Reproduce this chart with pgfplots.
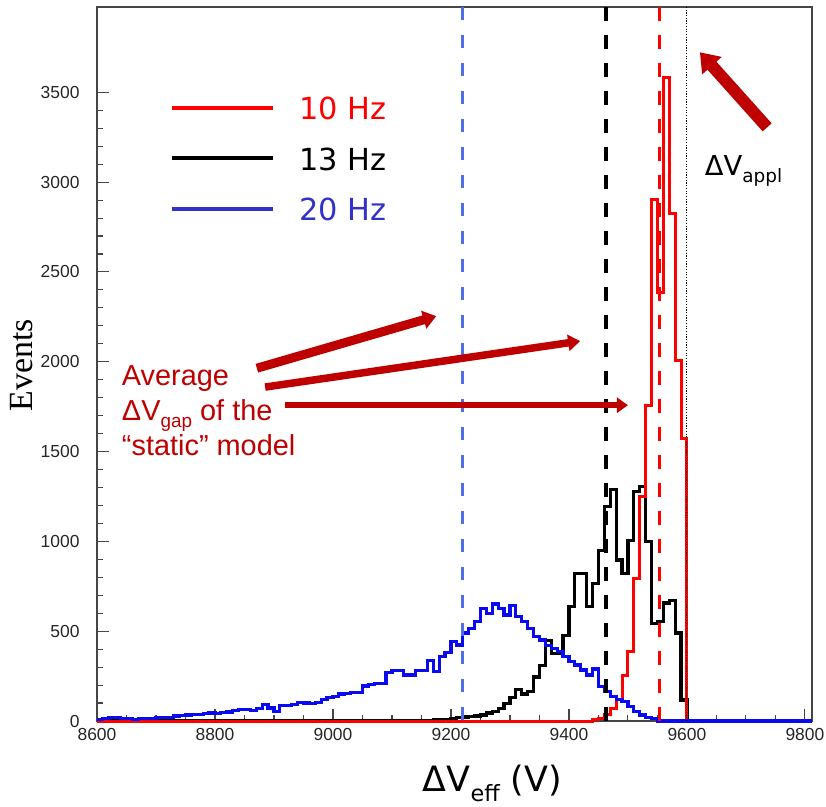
\documentclass[border=0pt]{standalone}
\usepackage{fontspec}
\setmainfont{Liberation Sans}
\newfontfamily\dejavu{DejaVu Sans}
\newfontfamily\tnr{Liberation Serif}
\usepackage{pgfplots}
\pgfplotsset{compat=1.18}
\usetikzlibrary{arrows.meta}
\definecolor{annred}{RGB}{190,0,0}
\definecolor{histblue}{RGB}{10,10,240}
\definecolor{dashblue}{RGB}{80,110,230}
\definecolor{legblue}{RGB}{50,50,200}
\definecolor{framegray}{RGB}{70,70,70}
\newcommand\tl[1]{{\fontsize{17.5}{20}\selectfont #1}}
\begin{document}
\begin{tikzpicture}
\useasboundingbox (-97bp,-86bp) rectangle (729bp,721bp);
\begin{axis}[
  at={(0,0)}, anchor=south west,
  scale only axis, width=715bp, height=714bp,
  xmin=8600, xmax=9812, ymin=0, ymax=3975,
  xtick={8600,8800,...,9800}, ytick={0,500,...,3500},
  xticklabels={\tl{8600},\tl{8800},\tl{9000},\tl{9200},\tl{9400},\tl{9600},\tl{9800}},
  yticklabels={\tl{0},\tl{500},\tl{1000},\tl{1500},\tl{2000},\tl{2500},\tl{3000},\tl{3500}},
  minor x tick num=3, minor y tick num=4,
  tick pos=left, tick align=inside,
  major tick length=12bp, minor tick length=6bp,
  axis line style={framegray, line width=1.1bp},
  every tick/.style={framegray, line width=1.1bp},
  tick label style={text=black!85},
  scaled ticks=false,
  yticklabel style={xshift=-14bp},
  xticklabel style={yshift=-4bp},
  clip=false,
  xlabel={\dejavu\fontsize{35}{39}\selectfont ΔV\raisebox{-0.28em}{\fontsize{22.5}{25}\selectfont eff} (V)},
  xlabel style={at={(axis cs:9152,-395)}, anchor=base west, inner sep=0pt},
  ylabel={\tnr\fontsize{34}{38}\selectfont Events},
  ylabel style={at={(axis description cs:-0.105,0.4986)}, anchor=center, inner sep=0pt},
  legend image code/.code={\draw[#1,line width=4bp] (0bp,4bp) -- (101bp,4bp);},
  legend style={at={(0.097,0.876)}, anchor=north west, draw=none, fill=none,
    font=\dejavu\fontsize{30.5}{35}\selectfont,
    nodes={inner sep=0pt, text height=22bp, text depth=6bp},
    row sep=22.5bp,
    /tikz/every odd column/.append style={column sep=25bp}},
  legend cell align=left,
]
% histograms
\addplot[black, line width=3.2bp, const plot mark left, forget plot] coordinates {
(8600,0) (9140,2) (9150,3) (9160,4) (9170,6) (9180,8) (9190,10) (9200,14) (9210,18) (9220,22) (9230,25) (9240,28) (9250,33) (9260,45) (9270,55) (9280,70) (9290,98) (9300,130) (9310,175) (9320,150) (9330,165) (9340,245) (9350,310) (9360,450) (9370,378) (9380,378) (9390,478) (9400,636) (9410,822) (9420,822) (9430,636) (9440,767) (9450,951) (9460,1193) (9470,1288) (9480,896) (9490,823) (9500,1007) (9510,1276) (9520,1304) (9530,998) (9540,545) (9550,552) (9560,657) (9570,673) (9580,490) (9590,117) (9600,0) (9812,0)};
\addplot[red, line width=3bp, const plot mark left, forget plot] coordinates {
(8600,0) (9440,8) (9450,15) (9460,35) (9470,70) (9480,117) (9490,256) (9500,386) (9510,794) (9520,1248) (9530,1758) (9540,2904) (9550,2388) (9560,3585) (9570,2827) (9580,2009) (9590,1575) (9600,0) (9812,0)};
\addplot[histblue, line width=3.2bp, const plot mark left, forget plot] coordinates {
(8600,8) (8610,15) (8620,18) (8630,18) (8640,15) (8650,12) (8660,10) (8670,12) (8680,15) (8690,16) (8700,18) (8710,18) (8720,20) (8730,28) (8740,32) (8750,33) (8760,38) (8770,38) (8780,40) (8790,45) (8800,43) (8810,48) (8820,50) (8830,60) (8840,62) (8850,62) (8860,60) (8870,68) (8880,90) (8890,72) (8900,52) (8910,85) (8920,88) (8930,90) (8940,102) (8950,100) (8960,98) (8970,105) (8980,120) (8990,130) (9000,135) (9010,150) (9020,155) (9030,157) (9040,160) (9050,195) (9060,205) (9070,210) (9080,210) (9090,269) (9100,280) (9110,280) (9120,256) (9130,256) (9140,280) (9150,280) (9160,339) (9170,275) (9180,358) (9190,382) (9200,441) (9210,423) (9220,490) (9230,516) (9240,553) (9250,627) (9260,599) (9270,651) (9280,627) (9290,590) (9300,645) (9310,580) (9320,553) (9330,516) (9340,469) (9350,451) (9360,420) (9370,405) (9380,386) (9390,358) (9400,330) (9410,312) (9420,284) (9430,256) (9440,290) (9450,191) (9460,163) (9470,135) (9480,120) (9490,107) (9500,80) (9510,52) (9520,33) (9530,20) (9540,12) (9550,0) (9812,0)};
% vertical reference lines
\addplot[dashblue, line width=3.4bp, dash pattern=on 13bp off 15bp, forget plot] coordinates {(9220,3975) (9220,0)};
\addplot[black, line width=3.4bp, dash pattern=on 14bp off 14bp, forget plot] coordinates {(9463,3975) (9463,-50)};
\addplot[red, line width=3.4bp, dash pattern=on 14bp off 14bp, forget plot] coordinates {(9553,3975) (9553,0)};
\addplot[black, line width=0.9bp, dash pattern=on 1.2bp off 1.5bp, forget plot] coordinates {(9600,3975) (9600,0)};
% legend
\addlegendimage{red}
\addlegendentry{\textcolor{red}{10 Hz}}
\addlegendimage{black}
\addlegendentry{\textcolor{black}{13 Hz}}
\addlegendimage{legblue}
\addlegendentry{\textcolor{legblue}{20 Hz}}
% annotations
\draw[annred, line width=9bp, -{Triangle[length=13bp,width=18bp]}] (axis cs:8871,1964) -- (axis cs:9175,2254);
\draw[annred, line width=7.5bp, -{Triangle[length=12bp,width=16bp]}] (axis cs:8885,1859) -- (axis cs:9419,2115);
\draw[annred, line width=6.5bp, -{Triangle[length=11bp,width=15bp]}] (axis cs:8919,1758) -- (axis cs:9500,1758);
\draw[annred, line width=12bp, -{Triangle[length=18bp,width=25bp]}] (axis cs:9736,3305) -- (axis cs:9622,3723);
\node[annred, anchor=base west, inner sep=0pt, font=\fontsize{29}{34}\selectfont] at (axis cs:8642,1870) {Average};
\node[annred, anchor=base west, inner sep=0pt, font=\fontsize{29}{34}\selectfont] at (axis cs:8642,1675) {ΔV\raisebox{-0.25em}{\fontsize{19}{22}\selectfont gap} of the};
\node[annred, anchor=base west, inner sep=0pt, font=\fontsize{29}{34}\selectfont] at (axis cs:8642,1480) {“static” model};
\node[black, anchor=base west, inner sep=0pt, font=\dejavu\fontsize{27.5}{32}\selectfont] at (axis cs:9630,3038) {ΔV\raisebox{-0.28em}{\fontsize{18.5}{22}\selectfont appl}};
\end{axis}
\end{tikzpicture}
\end{document}
